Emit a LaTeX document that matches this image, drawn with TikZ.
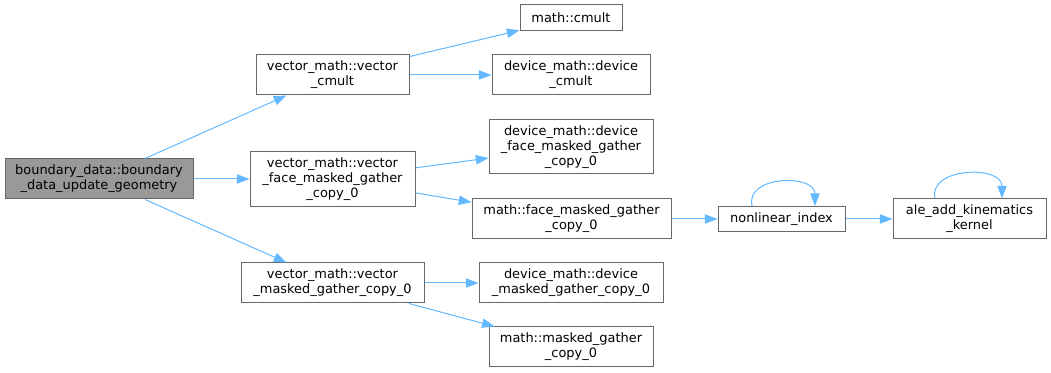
\documentclass[tikz,border=0pt]{standalone}
\usepackage{fontspec}
\setmainfont{DejaVu Sans}
\usetikzlibrary{arrows.meta}
\definecolor{edgeblue}{HTML}{63B8FF}
\definecolor{boxgray}{HTML}{666666}
\definecolor{rootgray}{HTML}{999999}
\begin{document}
\begin{tikzpicture}[x=0.75pt, y=-0.75pt,
  fn/.style={draw=boxgray, line width=0.75pt, fill=white, rectangle, inner sep=0pt,
             align=center, font=\fontsize{9.7}{11.25}\selectfont},
  call/.style={draw=edgeblue, line width=0.75pt,
               -{Triangle[length=9.5pt, width=7pt]}}]
  \useasboundingbox (0,0) rectangle (1051,373);

  \node (root)    [fn, fill=rootgray, minimum width=141pt, minimum height=30pt] at (99,179)
                  {boundary\_data::boundary\\\_data\_update\_geometry};
  \node (vcmult)  [fn, minimum width=114.75pt, minimum height=30pt] at (332.5,75)
                  {vector\_math::vector\\\_cmult};
  \node (vface)   [fn, minimum width=123.75pt, minimum height=41.25pt] at (332.5,179)
                  {vector\_math::vector\\\_face\_masked\_gather\\\_copy\_0};
  \node (vmasked) [fn, minimum width=137.25pt, minimum height=30pt] at (332.5,283)
                  {vector\_math::vector\\\_masked\_gather\_copy\_0};

  \node (cmult)   [fn, minimum width=76.5pt, minimum height=19.5pt] at (571,18)
                  {math::cmult};
  \node (dcmult)  [fn, minimum width=118.5pt, minimum height=30pt] at (571,75)
                  {device\_math::device\\\_cmult};
  \node (dface)   [fn, minimum width=123pt, minimum height=40.5pt] at (571,147)
                  {device\_math::device\\\_face\_masked\_gather\\\_copy\_0};
  \node (mface)   [fn, minimum width=149.25pt, minimum height=30pt] at (571.5,219)
                  {math::face\_masked\_gather\\\_copy\_0};
  \node (dmasked) [fn, minimum width=138pt, minimum height=30pt] at (571,283)
                  {device\_math::device\\\_masked\_gather\_copy\_0};
  \node (mmasked) [fn, minimum width=123pt, minimum height=30pt] at (571,347)
                  {math::masked\_gather\\\_copy\_0};

  \node (nlindex) [fn, minimum width=95.25pt, minimum height=18.75pt] at (781.5,219)
                  {nonlinear\_index};
  \node (ale)     [fn, minimum width=114.75pt, minimum height=30pt] at (969.5,219)
                  {ale\_add\_kinematics\\\_kernel};

  \draw[call] (root)    -- (vcmult);
  \draw[call] (root)    -- (vface);
  \draw[call] (root)    -- (vmasked);
  \draw[call] (vcmult)  -- (cmult);
  \draw[call] (vcmult)  -- (dcmult);
  \draw[call] (vface)   -- (dface);
  \draw[call] (vface)   -- (mface);
  \draw[call] (vmasked) -- (dmasked);
  \draw[call] (vmasked) -- (mmasked);
  \draw[call] (mface)   -- (nlindex);
  \draw[call] (nlindex) -- (ale);

  \draw[call] ([xshift=-22.1pt]nlindex.north) .. controls (745,175) and (815,174)
              .. ([xshift=25.1pt]nlindex.north);
  \draw[call] ([xshift=-25.9pt]ale.north) .. controls (928,167) and (1002,165)
              .. ([xshift=24.4pt]ale.north);
\end{tikzpicture}
\end{document}
